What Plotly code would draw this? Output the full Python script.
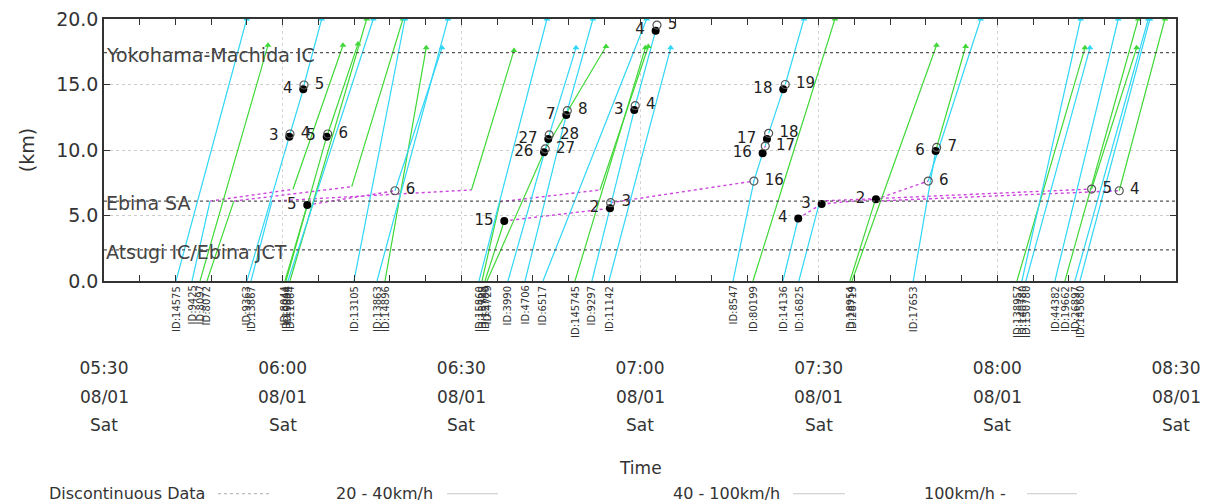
import plotly.graph_objects as go
from datetime import datetime, timedelta

T0 = datetime(2015, 8, 1, 5, 30)

# ---- data (time as minutes after 05:30, distance in km) ----
track_ids = ["ID:14575", "ID:9425", "ID:8097", "ID:8072", "ID:9363", "ID:13867",
             "ID:8044", "ID:10044", "ID:9304", "ID:11064", "ID:13105", "ID:13863",
             "ID:14896", "ID:15860", "ID:15729", "ID:15780", "ID:4729", "ID:3990",
             "ID:4706", "ID:6517", "ID:145745", "ID:9297", "ID:11142", "ID:8547",
             "ID:80199", "ID:14136", "ID:16825", "ID:18954", "ID:28719", "ID:17653",
             "ID:138957", "ID:140780", "ID:150780", "ID:44382", "ID:19662",
             "ID:26897", "ID:145680"]

track_times = [
    [12.09, 23.96],
    [14.78, 17.8, 31.73, 40.13],
    [16.12, 27.54],
    [17.29, 21.8, 41.6, 50.2],
    [24.01, 31.11, 31.23, 33.46, 33.58, 36.55],
    [24.68, 28.2, 61.7, 68.84],
    [30.39, 34.13, 48.86, 56.75],
    [30.56, 37.39, 37.56, 42.65],
    [30.89, 45.22],
    [31.23, 44.11],
    [41.97, 50.54],
    [45.84, 57.76],
    [47.18, 54.1],
    [62.96, 74.38],
    [63.47, 66.49, 83.28, 91.39],
    [63.97, 67.21, 84.96, 85.07, 109.13],
    [64.31, 73.88, 74.09, 84.29],
    [67.83, 74.60, 74.76, 79.25],
    [70.69, 77.62, 77.79, 82.10],
    [73.71, 91.12],
    [79.08, 90.9],
    [81.93, 89.04, 89.20, 92.63, 92.85],
    [84.79, 95.15],
    [105.62, 109.13, 110.59, 111.03, 111.32, 111.6, 114.05, 114.39, 117.53],
    [108.97, 122.73],
    [114.0, 116.57, 120.5, 129.62, 138.4, 147.2],
    [116.67, 120.2, 165.83, 173.39],
    [125.25, 129.45, 170.47, 178.14],
    [125.59, 139.79],
    [135.88, 139.64, 139.81, 144.68],
    [153.29, 164.71],
    [154.13, 163.99],
    [154.80, 165.55],
    [159.67, 170.30],
    [161.35, 173.66],
    [163.03, 175.34],
    [163.87, 175.62],
]

track_km = [
    [0, 20],
    [0, 6.1, 7.0, 18.0],
    [0, 18.0],
    [0, 6.1, 7.2, 20],
    [0, 11.02, 11.22, 14.63, 14.96, 20],
    [0, 6.1, 6.95, 17.6],
    [0, 5.80, 6.89, 17.8],
    [0, 11.02, 11.22, 18.1],
    [0, 20],
    [0, 20],
    [0, 20],
    [0, 20],
    [0, 17.8],
    [0, 20],
    [0, 6.05, 6.95, 17.9],
    [0, 4.58, 5.55, 5.98, 7.63],
    [0, 9.82, 10.08, 17.9],
    [0, 10.84, 11.15, 17.8],
    [0, 12.67, 13.0, 20],
    [0, 20],
    [0, 17.8],
    [0, 13.05, 13.38, 19.11, 19.54],
    [0, 17.8],
    [0, 7.63, 9.75, 10.3, 10.84, 11.27, 14.63, 15.0, 20],
    [0, 20],
    [0, 4.78, 5.88, 6.24, 7.63, 20],
    [0, 6.1, 7.02, 17.8],
    [0, 6.1, 6.89, 20],
    [0, 18],
    [0, 9.92, 10.2, 17.9],
    [0, 17.8],
    [0, 20],
    [0, 17.8],
    [0, 20],
    [0, 20],
    [0, 20],
    [0, 20],
]

# segment class: c = 100km/h-, g = 40-100km/h, d = discontinuous data
track_segs = ["c", "cdg", "g", "gdg", "cdcdc", "cdg", "gdc", "gdg", "c", "g",
              "c", "c", "g", "c", "gdg", "gddd", "gdg", "cdc", "cdc", "c", "g",
              "cdcd", "c", "ccdcdcdc", "g", "cdddc", "cdg", "gdg", "g", "cdg",
              "g", "c", "c", "c", "g", "c", "c"]

# numbered points: filled (label left) and open (label right)
filled_t = [33.46, 31.11, 37.39, 34.13, 67.21, 84.96, 73.88, 74.60, 77.62, 89.04,
            92.63, 114.05, 111.32, 110.59, 116.57, 120.5, 129.62, 139.64]
filled_km = [14.63, 11.02, 11.02, 5.80, 4.58, 5.55, 9.82, 10.84, 12.67, 13.05,
             19.11, 14.63, 10.84, 9.75, 4.78, 5.88, 6.24, 9.92]
filled_lab = ["4", "3", "5", "5", "15", "2", "26", "27", "7", "3",
              "4", "18", "17", "16", "4", "3", "2", "6"]

open_t = [33.58, 31.23, 37.56, 48.86, 85.07, 74.09, 74.76, 77.79, 89.20, 92.85,
          114.39, 111.6, 111.03, 109.13, 138.4, 139.81, 165.83, 170.47]
open_km = [14.96, 11.22, 11.22, 6.89, 5.98, 10.08, 11.15, 13.0, 13.38, 19.54,
           15.0, 11.27, 10.3, 7.63, 7.63, 10.2, 7.02, 6.89]
open_lab = ["5", "4", "6", "6", "3", "27", "28", "8", "4", "5",
            "19", "18", "17", "16", "6", "7", "5", "4"]

ref_km = [17.43, 6.1, 2.37]
ref_names = ["Yokohama-Machida IC", "Ebina SA", "Atsugi IC/Ebina JCT"]

tick_minutes = [0, 30, 60, 90, 120, 150, 180]
tick_times = ["05:30", "06:00", "06:30", "07:00", "07:30", "08:00", "08:30"]
tick_dates = ["08/01"] * 7
tick_days = ["Sat"] * 7

legend_names = ["Discontinuous Data", "20 - 40km/h", "40 - 100km/h", "100km/h -"]

# ---- styles ----
GREEN = "#40d838"
CYAN = "#30d6f6"
MAGENTA = "#cc44dd"
FONT = "DejaVu Sans"
NB = "\u00a0"


def ts(m):
    return T0 + timedelta(minutes=m)


seg_x = {"g": [], "c": [], "d": []}
seg_y = {"g": [], "c": [], "d": []}
arrow_x = {"g": [], "c": []}
arrow_y = {"g": [], "c": []}
for t, k, s in zip(track_times, track_km, track_segs):
    for i, cls in enumerate(s):
        seg_x[cls] += [ts(t[i]), ts(t[i + 1]), None]
        seg_y[cls] += [k[i], k[i + 1], None]
    if s[-1] != "d" and k[-1] >= 17:
        arrow_x[s[-1]].append(ts(t[-1]))
        arrow_y[s[-1]].append(k[-1])

fig = go.Figure()
fig.add_trace(go.Scatter(x=seg_x["d"], y=seg_y["d"], mode="lines",
                         line=dict(color=MAGENTA, width=1.4, dash="dot"),
                         showlegend=False, hoverinfo="skip"))
fig.add_trace(go.Scatter(x=seg_x["g"], y=seg_y["g"], mode="lines",
                         line=dict(color=GREEN, width=1.2), showlegend=False))
fig.add_trace(go.Scatter(x=seg_x["c"], y=seg_y["c"], mode="lines",
                         line=dict(color=CYAN, width=1.2), showlegend=False))
fig.add_trace(go.Scatter(x=arrow_x["g"], y=arrow_y["g"], mode="markers",
                         marker=dict(symbol="triangle-up", size=6, color=GREEN),
                         showlegend=False))
fig.add_trace(go.Scatter(x=arrow_x["c"], y=arrow_y["c"], mode="markers",
                         marker=dict(symbol="triangle-up", size=6, color=CYAN),
                         showlegend=False))
fig.add_trace(go.Scatter(x=[ts(m) for m in filled_t], y=filled_km, mode="markers+text",
                         text=[lab + NB for lab in filled_lab],
                         textposition="middle left",
                         textfont=dict(family=FONT, size=15, color="#222"),
                         marker=dict(symbol="circle", size=8, color="#000"),
                         showlegend=False))
fig.add_trace(go.Scatter(x=[ts(m) for m in open_t], y=open_km, mode="markers+text",
                         text=[NB + lab for lab in open_lab],
                         textposition="middle right",
                         textfont=dict(family=FONT, size=15, color="#222"),
                         marker=dict(symbol="circle-open", size=8, color="#555",
                                     line=dict(width=1.2)),
                         showlegend=False))

shapes = []
annotations = []
for km, name in zip(ref_km, ref_names):
    shapes.append(dict(type="line", xref="paper", yref="y", x0=0, x1=1, y0=km, y1=km,
                       line=dict(color="#555", width=1.2, dash="3px,3px"), layer="above"))
    annotations.append(dict(xref="paper", yref="y", x=0, y=km, xanchor="left",
                            yanchor="middle", yshift=-2, showarrow=False, text=name,
                            font=dict(family=FONT, size=19, color="#444")))

for tid, t in zip(track_ids, track_times):
    annotations.append(dict(xref="x", yref="y", x=ts(t[0]), y=0, textangle=-90,
                            xanchor="center", yanchor="top", yshift=-3, showarrow=False,
                            text=tid, font=dict(family=FONT, size=10, color="#333")))

# second and third rows of the time-axis labels
for m, d, w in zip(tick_minutes, tick_dates, tick_days):
    annotations.append(dict(xref="x", yref="paper", x=ts(m), y=-0.443, showarrow=False,
                            yanchor="middle", text=d,
                            font=dict(family=FONT, size=17, color="#333")))
    annotations.append(dict(xref="x", yref="paper", x=ts(m), y=-0.55, showarrow=False,
                            yanchor="middle", text=w,
                            font=dict(family=FONT, size=17, color="#333")))

annotations.append(dict(xref="paper", yref="paper", x=0.5, y=-0.714, showarrow=False,
                        yanchor="middle", text="Time",
                        font=dict(family=FONT, size=17, color="#333")))

# hand-drawn legend row below the chart
leg_text_right = [0.0961, 0.3088, 0.6325, 0.8433]
leg_line = [(0.1063, 0.1549), (0.32, 0.3675), (0.6427, 0.6912), (0.861, 0.9076)]
leg_dash = ["dot", "solid", "solid", "solid"]
LEG_Y = -0.812
for name, xr, (a, b), dsh in zip(legend_names, leg_text_right, leg_line, leg_dash):
    annotations.append(dict(xref="paper", yref="paper", x=xr, y=LEG_Y, xanchor="right",
                            yanchor="middle", showarrow=False, text=name,
                            font=dict(family=FONT, size=16, color="#333")))
    shapes.append(dict(type="line", xref="paper", yref="paper", x0=a, x1=b,
                       y0=LEG_Y, y1=LEG_Y,
                       line=dict(color="#aaaaaa" if dsh == "dot" else "#c8c8c8",
                                 width=1, dash=dsh)))

fig.update_layout(
    width=1205, height=504,
    margin=dict(l=104, r=29, t=19, b=223, autoexpand=False),
    plot_bgcolor="white", paper_bgcolor="white",
    font=dict(family=FONT, color="#333"),
    shapes=shapes, annotations=annotations,
    showlegend=False,
)
fig.update_xaxes(
    type="date", range=[ts(0), ts(180)],
    tickvals=[ts(m) for m in tick_minutes], ticktext=tick_times,
    ticks="inside", ticklen=6, tickcolor="#333", ticklabelstandoff=71,
    tickfont=dict(family=FONT, size=17, color="#333"),
    showline=True, linecolor="#333", linewidth=1.5, mirror="allticks",
    showgrid=True, gridcolor="#d4d4d4", griddash="dot", gridwidth=1,
    minor=dict(dtick=6 * 60 * 1000, ticks="inside", ticklen=6, tickcolor="#333",
               showgrid=False),
    zeroline=False, automargin=False,
)
fig.update_yaxes(
    range=[0, 20], tickvals=[0, 5, 10, 15, 20],
    ticktext=["0.0", "5.0", "10.0", "15.0", "20.0"],
    ticks="inside", ticklen=6, tickcolor="#333",
    tickfont=dict(family=FONT, size=19, color="#333"),
    showline=True, linecolor="#333", linewidth=1.5, mirror="allticks",
    showgrid=True, gridcolor="#cccccc", griddash="dot", gridwidth=1,
    zeroline=False, automargin=False,
    title=dict(text="(km)", font=dict(family=FONT, size=19, color="#333"), standoff=16),
)

fig.write_html("out.html", config={"displayModeBar": False},
               post_script="document.body.style.margin='0px';")
